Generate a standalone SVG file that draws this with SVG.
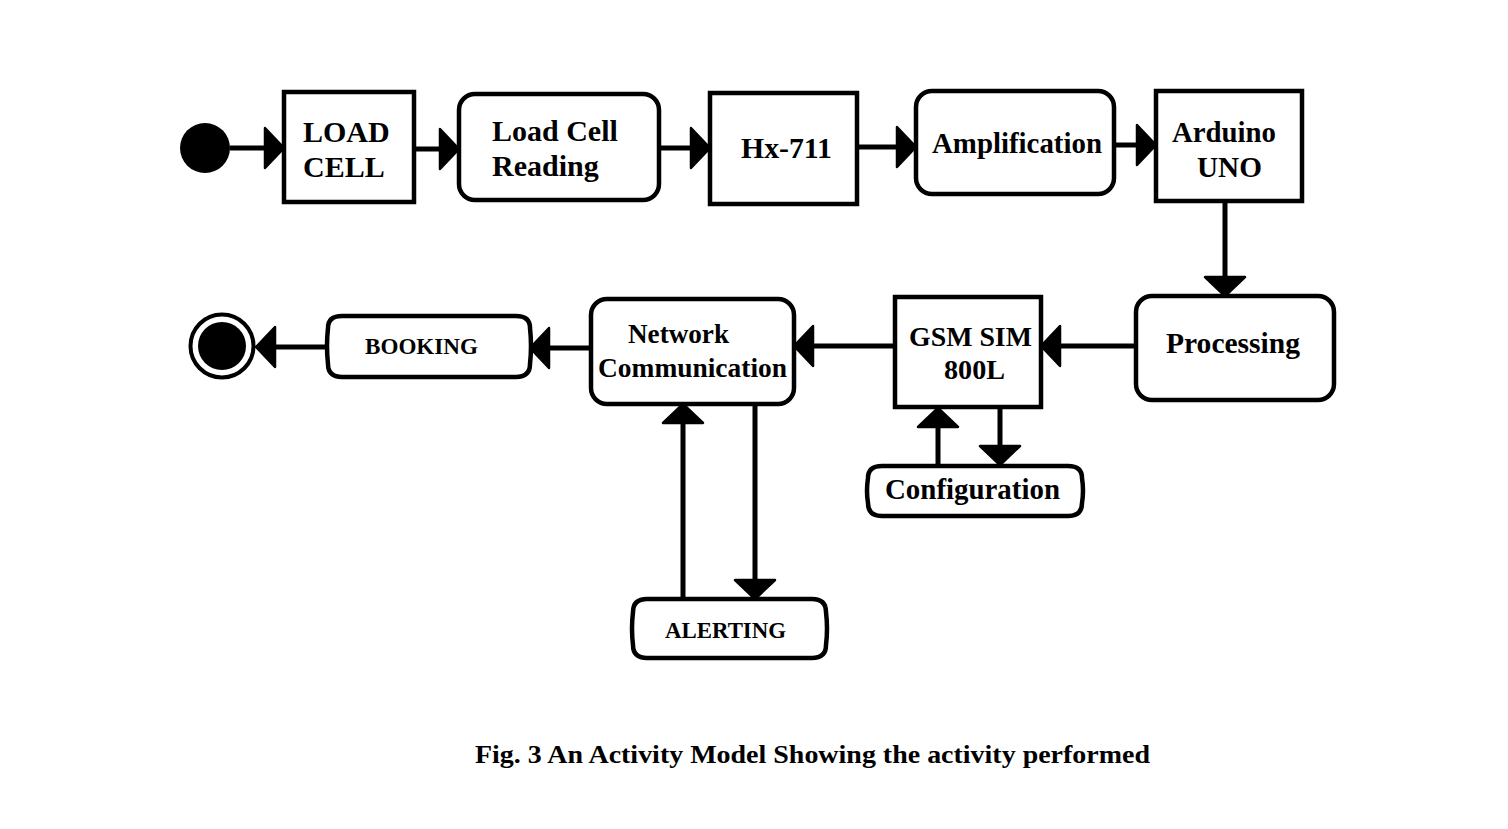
<svg xmlns="http://www.w3.org/2000/svg" width="1508" height="829" viewBox="0 0 1508 829">
<style>
.box{fill:#fff;stroke:#000;stroke-width:4.5}
.ln{fill:none;stroke:#000;stroke-width:5}
.t{font-family:"Liberation Serif","Times New Roman",serif;font-weight:bold;fill:#000}
</style>
<defs>
<marker id="ah" viewBox="0 0 24 44" refX="17" refY="22" markerWidth="24" markerHeight="44" markerUnits="userSpaceOnUse" orient="auto">
<path d="M2,2 L21,22 L2,42 Z" fill="#000" stroke="#000" stroke-width="2.5" stroke-linejoin="round"/>
</marker>
</defs>
<rect width="1508" height="829" fill="#fff"/>

<g id="connectors">
<line class="ln" x1="230" y1="148" x2="280" y2="148" marker-end="url(#ah)"/>
<line class="ln" x1="414" y1="149" x2="455" y2="149" marker-end="url(#ah)"/>
<line class="ln" x1="659" y1="148" x2="706" y2="148" marker-end="url(#ah)"/>
<line class="ln" x1="857" y1="147" x2="912" y2="147" marker-end="url(#ah)"/>
<line class="ln" x1="1114" y1="145" x2="1152" y2="145" marker-end="url(#ah)"/>
<line class="ln" x1="1225" y1="201" x2="1225" y2="292" marker-end="url(#ah)"/>
<line class="ln" x1="1136" y1="346" x2="1045" y2="346" marker-end="url(#ah)"/>
<line class="ln" x1="895" y1="346" x2="798" y2="346" marker-end="url(#ah)"/>
<line class="ln" x1="591" y1="348" x2="534" y2="348" marker-end="url(#ah)"/>
<line class="ln" x1="328" y1="347" x2="260" y2="347" marker-end="url(#ah)"/>
<line class="ln" x1="938" y1="465" x2="938" y2="412" marker-end="url(#ah)"/>
<line class="ln" x1="1000" y1="408" x2="1000" y2="461" marker-end="url(#ah)"/>
<line class="ln" x1="683" y1="599" x2="683" y2="408" marker-end="url(#ah)"/>
<line class="ln" x1="755" y1="404" x2="755" y2="595" marker-end="url(#ah)"/>
</g>

<g id="start"><circle cx="205" cy="148" r="25" fill="#000"/></g>

<g id="end">
<circle cx="222" cy="346" r="31.5" fill="#fff" stroke="#000" stroke-width="4"/>
<circle cx="222" cy="346" r="24" fill="#000"/>
</g>

<g id="loadcell">
<rect class="box" x="284" y="92" width="130" height="110"/>
<text class="t" x="303" y="142" font-size="30">LOAD</text>
<text class="t" x="303" y="177" font-size="30">CELL</text>
</g>

<g id="lcreading">
<rect class="box" x="459" y="94" width="200" height="106" rx="16"/>
<text class="t" x="492" y="141" font-size="30">Load Cell</text>
<text class="t" x="492" y="176" font-size="30">Reading</text>
</g>

<g id="hx711">
<rect class="box" x="710" y="93" width="147" height="111"/>
<text class="t" x="741" y="158" font-size="30" textLength="91" lengthAdjust="spacingAndGlyphs">Hx-711</text>
</g>

<g id="amplification">
<rect class="box" x="916" y="91" width="198" height="103" rx="16"/>
<text class="t" x="932" y="153" font-size="30" textLength="170" lengthAdjust="spacingAndGlyphs">Amplification</text>
</g>

<g id="arduino">
<rect class="box" x="1156" y="91" width="146" height="110"/>
<text class="t" x="1172" y="142" font-size="30" textLength="104" lengthAdjust="spacingAndGlyphs">Arduino</text>
<text class="t" x="1197" y="177" font-size="30" textLength="65" lengthAdjust="spacingAndGlyphs">UNO</text>
</g>

<g id="processing">
<rect class="box" x="1136" y="296" width="198" height="104" rx="16"/>
<text class="t" x="1166" y="353" font-size="30" textLength="134" lengthAdjust="spacingAndGlyphs">Processing</text>
</g>

<g id="gsm">
<rect class="box" x="895" y="297" width="146" height="110"/>
<text class="t" x="909" y="346" font-size="28" textLength="123" lengthAdjust="spacingAndGlyphs">GSM SIM</text>
<text class="t" x="944" y="379" font-size="28" textLength="61" lengthAdjust="spacingAndGlyphs">800L</text>
</g>

<g id="network">
<rect class="box" x="591" y="299" width="203" height="105" rx="16"/>
<text class="t" x="628" y="343" font-size="28" textLength="101" lengthAdjust="spacingAndGlyphs">Network</text>
<text class="t" x="598" y="377" font-size="28" textLength="189" lengthAdjust="spacingAndGlyphs">Communication</text>
</g>

<g id="booking">
<path class="box" d="M342,316 L516,316 Q530,316 530,328 Q532,346 530,364 Q530,377 516,377 L342,377 Q328,377 328,364 Q326,346 328,328 Q328,316 342,316 Z"/>
<text class="t" x="365" y="354" font-size="23" textLength="113" lengthAdjust="spacingAndGlyphs">BOOKING</text>
</g>

<g id="configuration">
<path class="box" d="M882,466 L1068,466 Q1082,466 1082,478 Q1084,491 1082,503 Q1082,516 1068,516 L882,516 Q868,516 868,503 Q866,491 868,478 Q868,466 882,466 Z"/>
<text class="t" x="885" y="499" font-size="29" textLength="175" lengthAdjust="spacingAndGlyphs">Configuration</text>
</g>

<g id="alerting">
<path class="box" d="M647,599 L812,599 Q826,599 826,612 Q828,629 826,645 Q826,658 812,658 L647,658 Q633,658 633,645 Q631,629 633,612 Q633,599 647,599 Z"/>
<text class="t" x="665" y="638" font-size="23" textLength="121" lengthAdjust="spacingAndGlyphs">ALERTING</text>
</g>

<text class="t" x="475" y="763" font-size="26" textLength="675" lengthAdjust="spacingAndGlyphs">Fig. 3 An Activity Model Showing the activity performed</text>
</svg>
